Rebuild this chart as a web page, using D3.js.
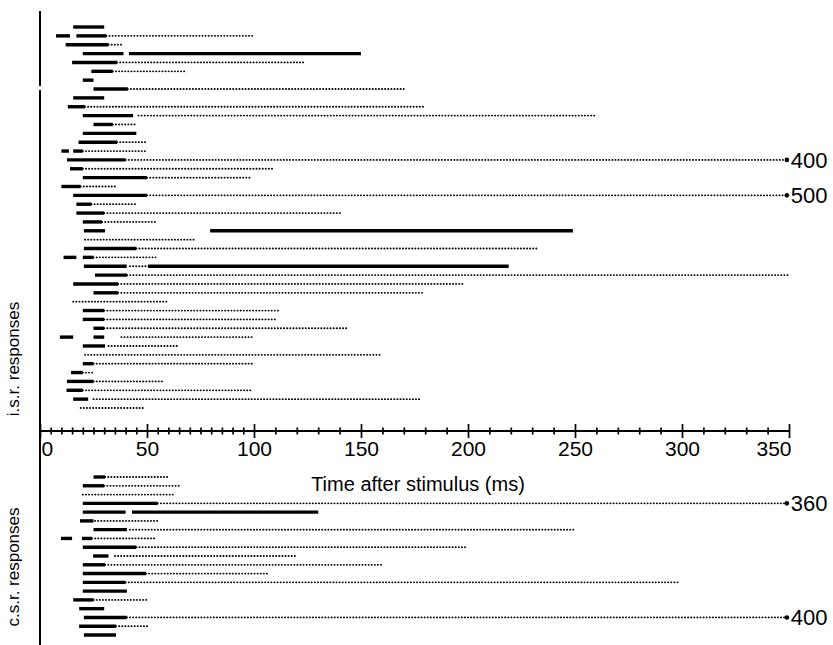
<!DOCTYPE html>
<html>
<head>
<meta charset="utf-8">
<script src="https://cdn.jsdelivr.net/npm/d3@7"></script>
<style>
  html, body { margin: 0; padding: 0; background: #fff; }
  svg { display: block; font-family: "Liberation Sans", Arial, Helvetica, sans-serif; }
</style>
</head>
<body>
<div id="chart"></div>
<script>
// Ipsilateral (i.s.r.) responses, one row per trial, top to bottom.
// Solid bars = [start, end] in ms; dots = [start, end] in ms of the dotted trace.
const isrBars = [
  [[15.5, 30]], [[7.5, 14], [17, 31]], [[12, 32]], [[20, 39], [41.6, 150]],
  [[15, 36]], [[24, 34]], [[20, 25]], [[25, 41]], [[15.5, 30]], [[13, 21]],
  [[20, 43.5]], [[25, 34]], [[20, 45]], [[18, 36]], [[10, 13.5], [15.5, 20]],
  [[12.6, 40]], [[14, 20]], [[20, 50]], [[10, 19]], [[15.5, 50]], [[17, 24]],
  [[17, 30]], [[20, 29]], [[20.5, 30.4], [79.5, 249]], [], [[20.5, 45]],
  [[11, 17], [20, 25]], [[20.5, 40.5], [50.6, 219]], [[25.7, 40.7]], [[15.5, 36.5]],
  [[25, 36.5]], [], [[20, 30]], [[20, 30]], [[25, 30]], [[9.3, 15.5], [25, 30]],
  [[20, 30.4]], [], [[20, 25]], [[14.5, 20]], [[12.6, 25]], [[12.4, 20]],
  [[15.5, 22.5]], []
];
const isrDots = [
  null, [31, 100], [32, 39], null, [36, 123], [34, 68], null, [41, 170], null, [21, 179],
  [46, 260], [34, 45], null, [36, 50], [20, 50], [40, 349], [20, 109], [50, 98], [19, 36],
  [50, 349], [24, 45], [30, 141], [29, 55], null, [21, 73], [45, 232], [25, 54], [42, 51],
  [40.7, 349.5], [36.5, 198], [36.5, 179], [15.5, 60], [30, 112], [30, 111], [30, 143.5],
  [38, 99], [32, 64], [21, 160], [25, 99], [20, 25], [25, 57.6], [20, 99], [25, 177.6], [19, 49]
];
// Rows whose trace runs off the axis, with the true end time (ms)
const isrLong = [[15, "400"], [19, "500"]];

// Contralateral (c.s.r.) responses
const csrBars = [
  [[25, 30.4]], [[20, 30]], [], [[20, 55]], [[20, 40], [43, 130]], [[18.7, 25]],
  [[25, 40.6]], [[9.8, 15], [19.6, 24.3]], [[20, 45]], [[24.8, 32]], [[20, 30.4]],
  [[20, 49.5]], [[20, 40]], [[20, 40.6]], [[15.5, 25]], [[18.3, 30]], [[20.5, 40.6]],
  [[18.3, 35.5]], [[20.5, 35.5]]
];
const csrDots = [
  [30.4, 60], [30, 65.5], [20, 63], [55, 349], null, [25.7, 56], [42, 250], [24.3, 54],
  [45, 198.6], [35, 120], [30.4, 160], [49.5, 107], [40, 298.6], null, [25, 50.5], null,
  [40.6, 349], [35.5, 51], null
];
const csrLong = [[3, "360"], [16, "400"]];

const majorTicks = d3.range(0, 351, 50);
const minorTicks = d3.range(5, 100, 5).concat(d3.range(110, 350, 10)).filter(d => d % 50 !== 0);

const width = 833;
const height = 645;

const svg = d3.select("#chart").append("svg")
  .attr("width", width)
  .attr("height", height)
  .attr("viewBox", [0, 0, width, height]);

const x = d3.scaleLinear().domain([0, 350]).range([40, 789]);
const axisY = 431;

const yIsr = d3.scalePoint().domain(d3.range(isrBars.length)).range([27, 408]);
const yCsr = d3.scalePoint().domain(d3.range(csrBars.length)).range([477, 635]);

// vertical baseline (time zero)
svg.append("g").attr("stroke", "#000").attr("stroke-width", 2)
  .selectAll("line")
  .data([[11, 86], [90, 645]])
  .join("line")
  .attr("x1", x(0)).attr("x2", x(0))
  .attr("y1", d => d[0]).attr("y2", d => d[1]);

function drawBlock(bars, dots, longRows, y) {
  const g = svg.append("g");
  // dotted traces (round-capped zero-length dashes give discrete dots)
  g.append("g")
    .attr("stroke", "#000").attr("stroke-width", 1.8)
    .attr("stroke-linecap", "round").attr("stroke-dasharray", "0.2,2.9")
    .selectAll("line")
    .data(dots.map((d, i) => ({ d, i })).filter(o => o.d))
    .join("line")
    .attr("x1", o => x(o.d[0])).attr("x2", o => x(o.d[1]))
    .attr("y1", o => y(o.i)).attr("y2", o => y(o.i));
  // solid bars
  const segs = [];
  bars.forEach((row, i) => row.forEach(s => segs.push({ s, i })));
  g.append("g")
    .attr("stroke", "#000").attr("stroke-width", 3.4)
    .selectAll("line")
    .data(segs)
    .join("line")
    .attr("x1", o => x(o.s[0])).attr("x2", o => x(o.s[1]))
    .attr("y1", o => y(o.i)).attr("y2", o => y(o.i));
  // run-off markers and labels
  const lg = g.append("g").selectAll("g").data(longRows).join("g")
    .attr("transform", d => `translate(${x(dots[d[0]][1])},${y(d[0])})`);
  lg.append("circle").attr("r", 2.3).attr("fill", "#000");
  lg.append("text").attr("x", 4).attr("dy", "0.36em")
    .attr("font-size", 22).text(d => d[1]);
}

drawBlock(isrBars, isrDots, isrLong, yIsr);
drawBlock(csrBars, csrDots, csrLong, yCsr);

// time axis: major ticks cross the line, minor ticks are small crosses
const axisG = svg.append("g").attr("transform", `translate(0,${axisY})`);
axisG.append("line").attr("x1", x(0)).attr("x2", x(350)).attr("stroke", "#000").attr("stroke-width", 2);

const majorDown = axisG.append("g")
  .call(d3.axisBottom(x).tickValues(majorTicks).tickSize(7).tickFormat(d3.format("d")));
const majorUp = axisG.append("g")
  .call(d3.axisTop(x).tickValues(majorTicks).tickSize(7).tickFormat(""));
const minorDown = axisG.append("g")
  .call(d3.axisBottom(x).tickValues(minorTicks).tickSize(3.5).tickFormat(""));
const minorUp = axisG.append("g")
  .call(d3.axisTop(x).tickValues(minorTicks).tickSize(3.5).tickFormat(""));

axisG.selectAll(".domain").remove();
axisG.selectAll(".tick line").attr("stroke", "#000").attr("stroke-width", 1.7);
majorDown.selectAll(".tick text")
  .attr("font-size", 21).attr("font-family", "Liberation Sans, Arial, sans-serif")
  .attr("fill", "#000").attr("y", 10)
  .attr("text-anchor", d => (d === 0 ? "start" : d === 350 ? "end" : "middle"))
  .attr("dx", d => (d === 0 ? 1 : d === 350 ? 2 : 0));

svg.append("text")
  .attr("x", 418).attr("y", 491)
  .attr("text-anchor", "middle").attr("font-size", 20)
  .text("Time after stimulus (ms)");

// row-group labels
svg.append("text")
  .attr("transform", "translate(19,359) rotate(-90)")
  .attr("text-anchor", "middle").attr("font-size", 17)
  .text("i.s.r. responses");
svg.append("text")
  .attr("transform", "translate(19,567) rotate(-90)")
  .attr("text-anchor", "middle").attr("font-size", 17)
  .text("c.s.r. responses");
</script>
</body>
</html>
